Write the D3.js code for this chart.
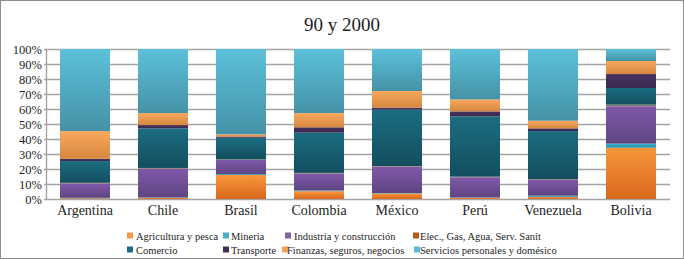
<!DOCTYPE html>
<html>
<head>
<meta charset="utf-8">
<script src="https://cdn.jsdelivr.net/npm/d3@7"></script>
<style>
    body { margin: 0; background: #fff; }
    .chart text { font-family: "Liberation Serif", "Times New Roman", Times, "DejaVu Serif", serif; fill: #1e1e1e; }
    .grid line { stroke: #a4a4a4; stroke-width: 1.4; }
    .grid .domain { display: none; }
</style>
</head>
<body>
<script>
//anonymous function to wrap script
(function(){

    //categories (countries)
    var countries = ["Argentina", "Chile", "Brasil", "Colombia", "México", "Perú", "Venezuela", "Bolivia"];

    //series names, in stacking order
    var sectors = ["Agricultura y pesca", "Mineria", "Industria  y construcción", "Elec., Gas, Agua, Serv. Sanit",
                   "Comercio", "Transporte", "Finanzas, seguros, negocios", "Servicios personales y domésico"];

    //series values (% share), one entry per country
    var agricultura = [0.5, 0.8, 16.0, 5.2, 3.7, 0.8, 1.4, 34.2];
    var mineria     = [0.3, 0.2, 0.6, 0.5, 0.3, 0.2, 0.8, 2.7];
    var industria   = [9.5, 19.2, 9.4, 11.2, 17.6, 13.5, 10.6, 24.9];
    var elec        = [0.5, 0.5, 0.4, 0.5, 0.4, 0.4, 0.5, 1.1];
    var comercio    = [14.5, 26.4, 14.4, 26.8, 37.6, 40.2, 32.0, 11.1];
    var transporte  = [1.5, 2.2, 0.8, 3.6, 1.3, 3.3, 1.8, 9.3];
    var finanzas    = [18.5, 8.0, 1.5, 9.5, 11.1, 8.0, 5.1, 8.7];
    var servicios   = [54.7, 42.7, 56.9, 42.7, 28.0, 33.6, 47.8, 8.0];

    var seriesValues = [agricultura, mineria, industria, elec, comercio, transporte, finanzas, servicios];

    //tick labels
    var yTicks = [0, 10, 20, 30, 40, 50, 60, 70, 80, 90, 100];

    //gradient colors for each series (top, bottom)
    var colorTop    = ["#f9963c", "#3cb3d2", "#8059aa", "#968074", "#1b6d82", "#47325f", "#f8a85e", "#5cc1d9"];
    var colorBottom = ["#d8681c", "#2a8eaa", "#5d4581", "#857064", "#134e5e", "#3a2a50", "#d6873f", "#4592a7"];
    var legendColor = ["#f79646", "#4bacc6", "#8064a2", "#b35a1a", "#1f6b80", "#403152", "#f9a35a", "#5bbad5"];

    //begin script when window loads
    window.onload = setChart();

    function setChart(){
        var width = 684,
            height = 259;

        var margin = {left: 46, right: 14, top: 49, bottom: 60};
        var plotW = width - margin.left - margin.right,
            plotH = height - margin.top - margin.bottom;

        var svg = d3.select("body")
            .append("svg")
            .attr("class", "chart")
            .attr("width", width)
            .attr("height", height);

        //outer frame
        svg.append("rect")
            .attr("x", 0.5).attr("y", 0.5)
            .attr("width", width - 1).attr("height", height - 1)
            .attr("fill", "#fff")
            .attr("stroke", "#8c8c8c");

        //gradients, one per series
        var defs = svg.append("defs");
        sectors.forEach(function(s, i){
            var g = defs.append("linearGradient")
                .attr("id", "grad" + i)
                .attr("x1", 0).attr("y1", 0).attr("x2", 0).attr("y2", 1);
            g.append("stop").attr("offset", "0%").attr("stop-color", colorTop[i]);
            g.append("stop").attr("offset", "100%").attr("stop-color", colorBottom[i]);
        });

        //title
        svg.append("text")
            .attr("x", 342)
            .attr("y", 31)
            .attr("text-anchor", "middle")
            .style("font-size", "19px")
            .text("90 y 2000");

        var x = d3.scaleBand()
            .domain(countries)
            .range([0, plotW])
            .paddingInner(28 / 78)
            .paddingOuter(14 / 78);

        var y = d3.scaleLinear()
            .domain([0, 100])
            .range([plotH, 0]);

        var plot = svg.append("g")
            .attr("transform", "translate(" + margin.left + "," + margin.top + ")");

        //gridlines (small tick out to the left like excel)
        var grid = plot.append("g")
            .attr("class", "grid")
            .call(d3.axisLeft(y).tickValues(yTicks).tickSizeInner(-plotW).tickSizeOuter(0).tickFormat(""));
        grid.selectAll(".tick line").attr("x1", -2);

        //left axis line
        plot.append("line")
            .attr("x1", 0.5).attr("x2", 0.5)
            .attr("y1", 0).attr("y2", plotH)
            .attr("stroke", "#a4a4a4")
            .attr("stroke-width", 1.4);

        //y tick labels
        plot.selectAll(".ylab")
            .data(yTicks)
            .enter()
            .append("text")
            .attr("class", "ylab")
            .attr("x", -4)
            .attr("y", function(d){ return y(d) + 4.5; })
            .attr("text-anchor", "end")
            .style("font-size", "12.5px")
            .text(function(d){ return d + "%"; });

        //build table for the stack
        var table = countries.map(function(c, ci){
            var row = {country: c};
            sectors.forEach(function(s, si){ row[s] = seriesValues[si][ci]; });
            return row;
        });

        var stacked = d3.stack().keys(sectors)(table);

        var layers = plot.selectAll(".layer")
            .data(stacked)
            .enter()
            .append("g")
            .attr("class", "layer")
            .attr("fill", function(d, i){ return "url(#grad" + i + ")"; });

        layers.selectAll("rect")
            .data(function(d){ return d; })
            .enter()
            .append("rect")
            .attr("x", function(d){ return x(d.data.country); })
            .attr("width", x.bandwidth())
            .attr("y", function(d){ return y(d[1]); })
            .attr("height", function(d){ return y(d[0]) - y(d[1]); });

        //category labels
        plot.selectAll(".xlab")
            .data(countries)
            .enter()
            .append("text")
            .attr("class", "xlab")
            .attr("x", function(d){ return x(d) + x.bandwidth() / 2; })
            .attr("y", plotH + 16)
            .attr("text-anchor", "middle")
            .style("font-size", "14px")
            .text(function(d){ return d; });

        //legend - two rows, four columns
        var legendPos = [[127, 236], [223, 236], [285, 236], [413, 236],
                         [127, 250], [223, 250], [282, 250], [414, 250]];
        var textPos = [136, 231, 294, 420, 136, 231, 287, 420];

        var legend = svg.selectAll(".legend")
            .data(sectors)
            .enter()
            .append("g")
            .attr("class", "legend");

        legend.append("rect")
            .attr("x", function(d, i){ return legendPos[i][0]; })
            .attr("y", function(d, i){ return legendPos[i][1] - 3.5; })
            .attr("width", 6)
            .attr("height", 6)
            .attr("fill", function(d, i){ return legendColor[i]; });

        legend.append("text")
            .attr("x", function(d, i){ return textPos[i]; })
            .attr("y", function(d, i){ return legendPos[i][1] + 3.5; })
            .style("font-size", "10.5px")
            .text(function(d){ return d; });
    };

})();
</script>
</body>
</html>
